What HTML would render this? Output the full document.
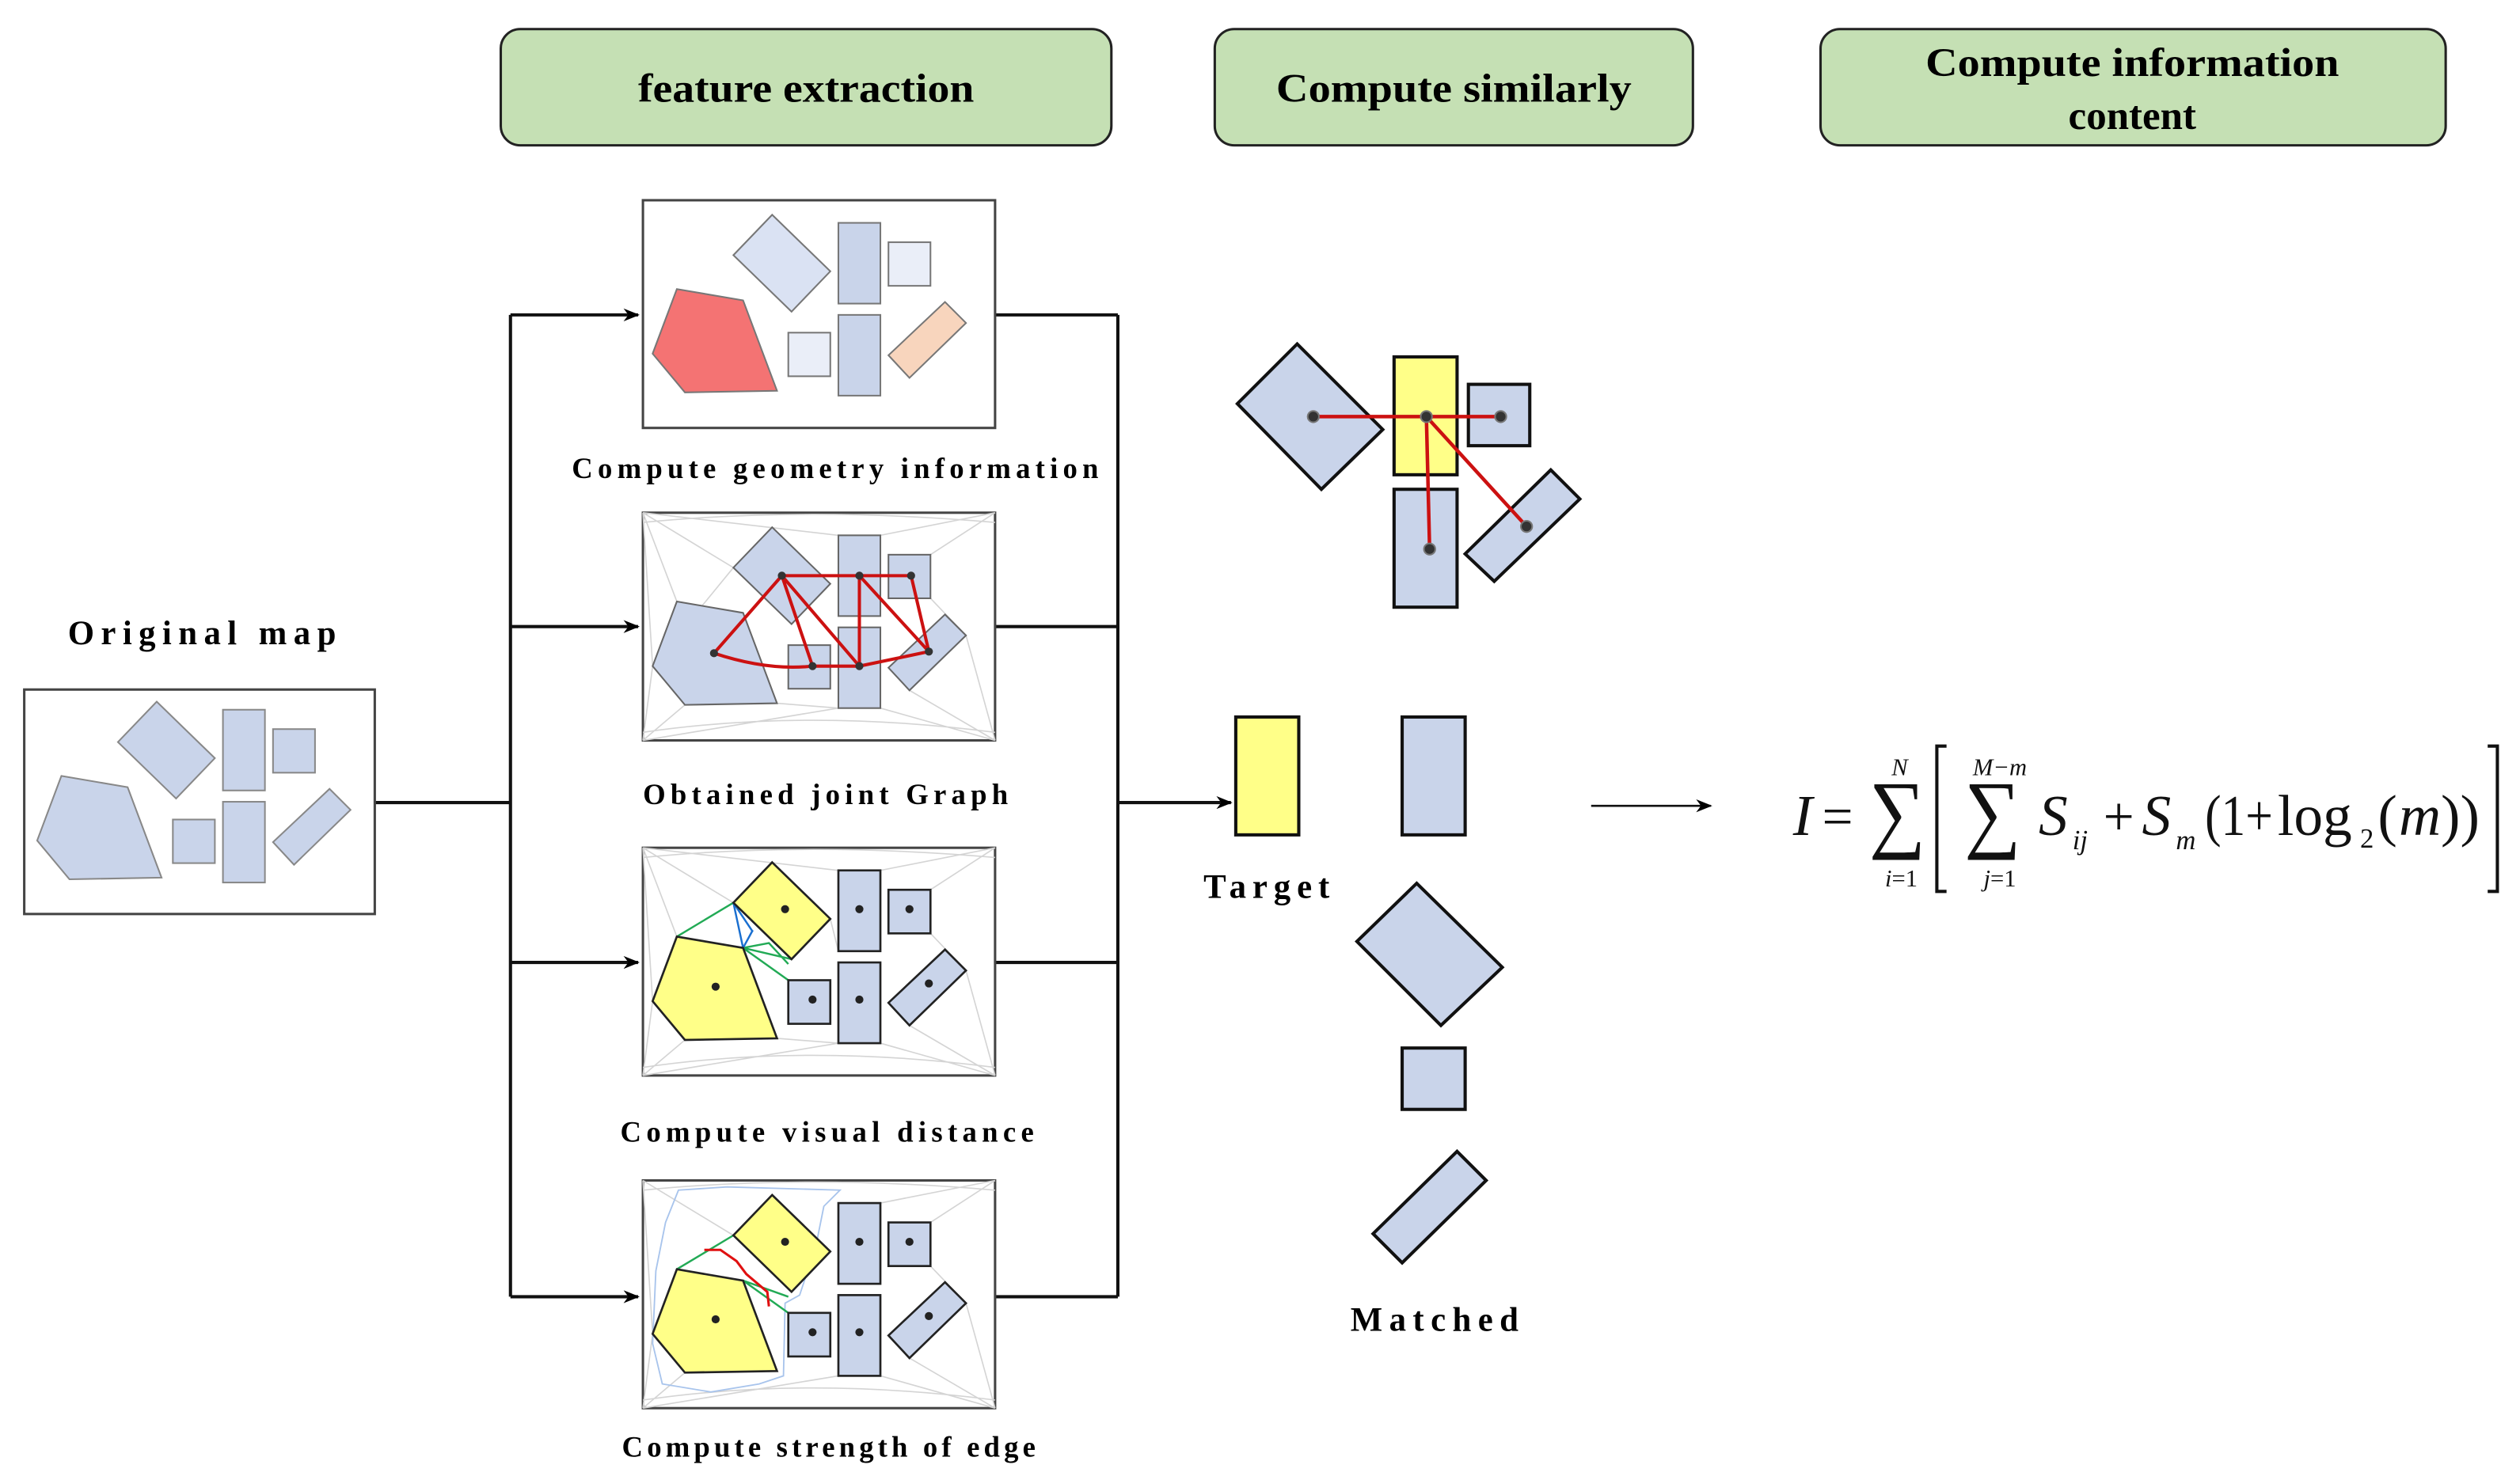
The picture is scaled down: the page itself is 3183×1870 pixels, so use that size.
<!DOCTYPE html>
<html><head><meta charset="utf-8"><style>html,body{margin:0;padding:0;background:#fff}svg{display:block}</style></head>
<body>
<svg xmlns="http://www.w3.org/2000/svg" width="3183" height="1870" viewBox="0 0 1560 916.5">
<defs>
<marker id="ar" markerWidth="10" markerHeight="8" refX="9" refY="4" orient="auto" markerUnits="userSpaceOnUse"><path d="M0,0 L10,4 L0,8 L3,4 Z" fill="#000"/></marker>
</defs>
<rect width="1560" height="916.5" fill="#fff"/>
<g font-family="Liberation Serif, serif" font-weight="bold" text-anchor="middle" fill="#000">
<rect x="310" y="18" width="378" height="72" rx="12" fill="#c5e0b4" stroke="#222" stroke-width="1.5"/>
<text x="499" y="63" font-size="25" textLength="208" lengthAdjust="spacingAndGlyphs">feature extraction</text>
<rect x="752" y="18" width="296" height="72" rx="12" fill="#c5e0b4" stroke="#222" stroke-width="1.5"/>
<text x="900" y="63" font-size="25" textLength="220" lengthAdjust="spacingAndGlyphs">Compute similarly</text>
<rect x="1127" y="18" width="387" height="72" rx="12" fill="#c5e0b4" stroke="#222" stroke-width="1.5"/>
<text x="1320" y="47" font-size="25" textLength="256" lengthAdjust="spacingAndGlyphs">Compute information</text>
<text x="1320" y="80" font-size="25">content</text>
</g>
<g stroke="#111" stroke-width="2" fill="none">
<line x1="232" y1="497" x2="316" y2="497"/>
<line x1="316" y1="195" x2="316" y2="803"/>
<line x1="316" y1="195" x2="395" y2="195" marker-end="url(#ar)"/>
<line x1="316" y1="388" x2="395" y2="388" marker-end="url(#ar)"/>
<line x1="316" y1="596" x2="395" y2="596" marker-end="url(#ar)"/>
<line x1="316" y1="803" x2="395" y2="803" marker-end="url(#ar)"/>
<line x1="616" y1="195" x2="692" y2="195"/>
<line x1="616" y1="388" x2="692" y2="388"/>
<line x1="616" y1="596" x2="692" y2="596"/>
<line x1="616" y1="803" x2="692" y2="803"/>
<line x1="692" y1="195" x2="692" y2="803"/>
<line x1="692" y1="497" x2="762" y2="497" marker-end="url(#ar)"/>
</g>
<line x1="985" y1="499" x2="1059" y2="499" stroke="#111" stroke-width="1.3" marker-end="url(#ar)"/>

<text x="125" y="399" font-family="Liberation Serif, serif" font-weight="bold" font-size="21" text-anchor="middle" textLength="166" lengthAdjust="spacing">Original map</text>
<rect x="15" y="427" width="217" height="139" fill="#fff" stroke="#444" stroke-width="1.5"/>
<g transform="translate(-381,301.5)" fill="#c9d4ea" stroke="#888" stroke-width="1">
<polygon points="478,133 514,168 490,193 454,158"/>
<rect x="519" y="138" width="26" height="50"/><rect x="550" y="150" width="26" height="27"/>
<polygon points="419,179 460,186 481,242 424,243 404,219"/>
<rect x="488" y="206" width="26" height="27"/><rect x="519" y="195" width="26" height="50"/>
<polygon points="585,187 598,200 563,234 550,220"/>
</g>

<rect x="398" y="124" width="218" height="141" fill="#fff" stroke="#444" stroke-width="1.5"/>
<g stroke="#777" stroke-width="1">
<polygon points="478,133 514,168 490,193 454,158" fill="#dae2f3"/>
<rect x="519" y="138" width="26" height="50" fill="#c9d4ea"/><rect x="550" y="150" width="26" height="27" fill="#eaeef8"/>
<polygon points="419,179 460,186 481,242 424,243 404,219" fill="#f47373"/>
<rect x="488" y="206" width="26" height="27" fill="#eaeef8"/><rect x="519" y="195" width="26" height="50" fill="#c9d4ea"/>
<polygon points="585,187 598,200 563,234 550,220" fill="#f8d5bd"/>
</g>
<text x="517" y="296" font-family="Liberation Serif, serif" font-weight="bold" font-size="18" text-anchor="middle" textLength="326" lengthAdjust="spacing">Compute geometry information</text>

<g transform="translate(0,193.5)">
<rect x="398" y="124" width="218" height="141" fill="#fff" stroke="#444" stroke-width="1.5"/>
<g stroke="#d4d4d4" stroke-width="0.8" fill="none">
<path d="M398,124 L454,158 M398,124 L404,219 M398,124 L419,179 M398,265 L404,219 M398,265 L424,243 M398,265 L519,245 M616,124 L576,150 M616,124 L545,138 M616,265 L598,200 M616,265 L545,245 M616,265 L563,234 M398,124 L519,138 M404,219 L454,158 M398,130 Q500,120 616,130 M398,260 Q500,245 616,260 M481,242 L519,245 M576,177 L598,200"/>
</g>
<g fill="#c9d4ea" stroke="#666" stroke-width="1">
<polygon points="478,133 514,168 490,193 454,158"/>
<rect x="519" y="138" width="26" height="50"/><rect x="550" y="150" width="26" height="27"/>
<polygon points="419,179 460,186 481,242 424,243 404,219"/>
<rect x="488" y="206" width="26" height="27"/><rect x="519" y="195" width="26" height="50"/>
<polygon points="585,187 598,200 563,234 550,220"/>
</g>
<g stroke="#cc1111" stroke-width="2" fill="none">
<path d="M484,163 L532,163 L564,163 L575,210 M484,163 L442,211 M484,163 L503,219 M484,163 L532,219 M532,163 L532,219 M532,163 L575,210 M442,211 Q475,222 503,219 L532,219 L575,210"/>
</g>
<g fill="#333"><circle cx="484" cy="163" r="2.5"/><circle cx="532" cy="163" r="2.5"/><circle cx="564" cy="163" r="2.5"/><circle cx="442" cy="211" r="2.5"/><circle cx="503" cy="219" r="2.5"/><circle cx="532" cy="219" r="2.5"/><circle cx="575" cy="210" r="2.5"/></g>
<text x="511" y="304.5" font-family="Liberation Serif, serif" font-weight="bold" font-size="18" text-anchor="middle" textLength="226" lengthAdjust="spacing">Obtained joint Graph</text>
</g>

<g transform="translate(0,401)">
<rect x="398" y="124" width="218" height="141" fill="#fff" stroke="#444" stroke-width="1.5"/>
<g stroke="#d4d4d4" stroke-width="0.8" fill="none">
<path d="M398,124 L454,158 M398,124 L404,219 M398,124 L419,179 M398,265 L404,219 M398,265 L424,243 M398,265 L519,245 M616,124 L576,150 M616,124 L545,138 M616,265 L598,200 M616,265 L545,245 M616,265 L563,234 M398,124 L519,138 M398,130 Q500,120 616,130 M398,260 Q500,245 616,260 M481,242 L519,245 M576,177 L598,200 M514,168 L519,188"/>
</g>
<g stroke="#22aa55" stroke-width="1.2" fill="none"><path d="M419,179 L454,158 M460,186 L488,206 M460,186 L476,183 L488,196 M460,186 L490,193"/></g>
<g stroke="#1a6fd0" stroke-width="1.2" fill="none"><path d="M454,158 L460,186 L466,175 M454,158 L466,176"/></g>
<g stroke="#222" stroke-width="1.3">
<polygon points="478,133 514,168 490,193 454,158" fill="#ffff88"/>
<rect x="519" y="138" width="26" height="50" fill="#c9d4ea"/><rect x="550" y="150" width="26" height="27" fill="#c9d4ea"/>
<polygon points="419,179 460,186 481,242 424,243 404,219" fill="#ffff88"/>
<rect x="488" y="206" width="26" height="27" fill="#c9d4ea"/><rect x="519" y="195" width="26" height="50" fill="#c9d4ea"/>
<polygon points="585,187 598,200 563,234 550,220" fill="#c9d4ea"/>
</g>
<g fill="#222"><circle cx="486" cy="162" r="2.5"/><circle cx="532" cy="162" r="2.5"/><circle cx="563" cy="162" r="2.5"/><circle cx="443" cy="210" r="2.5"/><circle cx="503" cy="218" r="2.5"/><circle cx="532" cy="218" r="2.5"/><circle cx="575" cy="208" r="2.5"/></g>
<text x="512" y="306" font-family="Liberation Serif, serif" font-weight="bold" font-size="18" text-anchor="middle" textLength="256" lengthAdjust="spacing">Compute visual distance</text>
</g>

<g transform="translate(0,607)">
<rect x="398" y="124" width="218" height="141" fill="#fff" stroke="#444" stroke-width="1.5"/>
<g stroke="#d4d4d4" stroke-width="0.8" fill="none">
<path d="M398,124 L454,158 M398,124 L404,219 M398,265 L404,219 M398,265 L424,243 M398,265 L519,245 M616,124 L576,150 M616,124 L545,138 M616,265 L598,200 M616,265 L545,245 M616,265 L563,234 M398,130 Q500,120 616,130 M398,260 Q500,245 616,260 M576,177 L598,200"/>
</g>
<path d="M420,130 L450,128 L520,130 L510,140 L505,165 L495,195 L486,200 L485,245 L470,250 L440,255 L410,250 L404,225 L406,180 L412,150 Z" fill="none" stroke="#a8c4ec" stroke-width="0.9"/>
<g stroke="#22aa55" stroke-width="1.2" fill="none"><path d="M419,179 L454,158 M460,186 L488,206 M460,186 L488,196"/></g>
<g stroke="#e01010" stroke-width="1.5" fill="none"><path d="M436,167 L446,167 L456,174 L462,182 L475,193 L476,202"/></g>
<g stroke="#222" stroke-width="1.3">
<polygon points="478,133 514,168 490,193 454,158" fill="#ffff88"/>
<rect x="519" y="138" width="26" height="50" fill="#c9d4ea"/><rect x="550" y="150" width="26" height="27" fill="#c9d4ea"/>
<polygon points="419,179 460,186 481,242 424,243 404,219" fill="#ffff88"/>
<rect x="488" y="206" width="26" height="27" fill="#c9d4ea"/><rect x="519" y="195" width="26" height="50" fill="#c9d4ea"/>
<polygon points="585,187 598,200 563,234 550,220" fill="#c9d4ea"/>
</g>
<g fill="#222"><circle cx="486" cy="162" r="2.5"/><circle cx="532" cy="162" r="2.5"/><circle cx="563" cy="162" r="2.5"/><circle cx="443" cy="210" r="2.5"/><circle cx="503" cy="218" r="2.5"/><circle cx="532" cy="218" r="2.5"/><circle cx="575" cy="208" r="2.5"/></g>
<text x="513" y="295" font-family="Liberation Serif, serif" font-weight="bold" font-size="18" text-anchor="middle" textLength="256" lengthAdjust="spacing">Compute strength of edge</text>
</g>

<g stroke="#111" stroke-width="2">
<polygon points="803,213 856,266 818,303 766,250" fill="#c9d4ea"/>
<rect x="863" y="221" width="39" height="73" fill="#ffff88"/>
<rect x="909" y="238" width="38" height="38" fill="#c9d4ea"/>
<rect x="863" y="303" width="39" height="73" fill="#c9d4ea"/>
<polygon points="960,291 978,309 925,360 907,343" fill="#c9d4ea"/>
</g>
<g stroke="#cc1111" stroke-width="2.2"><line x1="813" y1="258" x2="929" y2="258"/><line x1="883" y1="258" x2="885" y2="340"/><line x1="883" y1="258" x2="945" y2="326"/></g>
<g fill="#333" stroke="#777" stroke-width="1"><circle cx="813" cy="258" r="3.5"/><circle cx="883" cy="258" r="3.5"/><circle cx="929" cy="258" r="3.5"/><circle cx="885" cy="340" r="3.5"/><circle cx="945" cy="326" r="3.5"/></g>

<g stroke="#111" stroke-width="2">
<rect x="765" y="444" width="39" height="73" fill="#ffff88"/>
<rect x="868" y="444" width="39" height="73" fill="#c9d4ea"/>
<polygon points="877,547 930,599 892,635 840,583" fill="#c9d4ea"/>
<rect x="868" y="649" width="39" height="38" fill="#c9d4ea"/>
<polygon points="902,713 920,731 868,782 850,764" fill="#c9d4ea"/>
</g>
<g font-family="Liberation Serif, serif" font-weight="bold" font-size="21" text-anchor="middle">
<text x="784" y="556" textLength="78" lengthAdjust="spacing">Target</text>
<text x="888" y="824" textLength="104" lengthAdjust="spacing">Matched</text>
</g>

<g font-family="Liberation Serif, serif" fill="#111">
<text x="1110" y="517" font-size="36" font-style="italic">I</text>
<text x="1128" y="517" font-size="34">=</text>
<text x="1157" y="521" font-size="54" textLength="35" lengthAdjust="spacingAndGlyphs">∑</text>
<text x="1176" y="480" font-size="15" font-style="italic" text-anchor="middle">N</text>
<text x="1177" y="549" font-size="15" text-anchor="middle"><tspan font-style="italic">i</tspan>=1</text>
<path d="M1205,462 L1199,462 L1199,552 L1205,552" fill="none" stroke="#111" stroke-width="2"/>
<text x="1216" y="521" font-size="54" textLength="35" lengthAdjust="spacingAndGlyphs">∑</text>
<text x="1238" y="480" font-size="15" font-style="italic" text-anchor="middle">M−m</text>
<text x="1238" y="549" font-size="15" text-anchor="middle"><tspan font-style="italic">j</tspan>=1</text>
<text x="1262" y="517" font-size="36" font-style="italic">S</text>
<text x="1283" y="526" font-size="17" font-style="italic">ij</text>
<text x="1302" y="517" font-size="34">+</text>
<text x="1326" y="517" font-size="36" font-style="italic">S</text>
<text x="1347" y="526" font-size="17" font-style="italic">m</text>
<text x="1365" y="517" font-size="36" textLength="42" lengthAdjust="spacingAndGlyphs">(1+</text>
<text x="1410" y="517" font-size="36">log</text>
<text x="1461" y="525" font-size="17">2</text>
<text x="1472" y="517" font-size="36">(</text>
<text x="1485" y="517" font-size="36" font-style="italic">m</text>
<text x="1511" y="517" font-size="36">))</text>
<path d="M1540,462 L1546,462 L1546,552 L1540,552" fill="none" stroke="#111" stroke-width="2"/>
</g>
</svg>
</body></html>
